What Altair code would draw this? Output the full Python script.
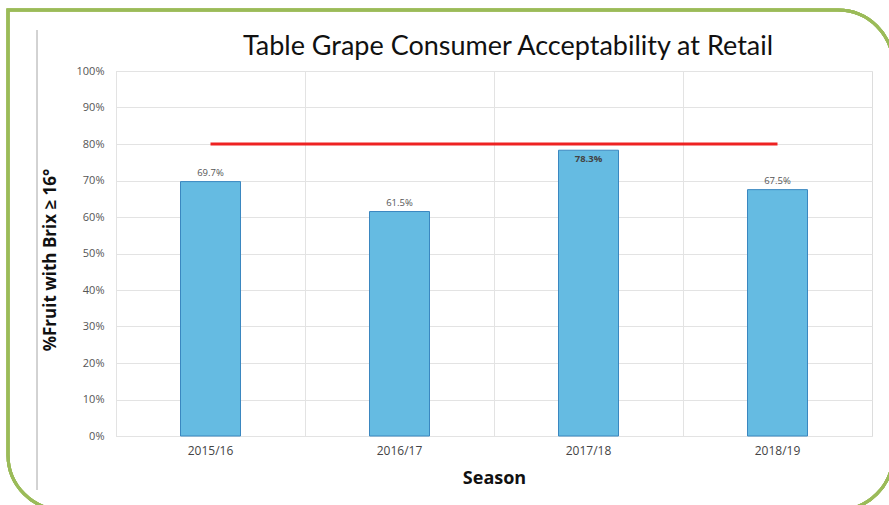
import altair as alt
import pandas as pd

seasons = ["2015/16", "2016/17", "2017/18", "2018/19"]
values = [0.697, 0.615, 0.783, 0.675]
labels = ["69.7%", "61.5%", "78.3%", "67.5%"]
target = 0.80
title_text = "Table Grape Consumer Acceptability at Retail"
y_ticks = [0.0, 0.1, 0.2, 0.3, 0.4, 0.5, 0.6, 0.7, 0.8, 0.9, 1.0]

df = pd.DataFrame({"season": seasons, "value": values, "label": labels})
tdf = pd.DataFrame({"start": [seasons[0]], "end": [seasons[-1]], "target": [target]})

W, H = 756, 365
L, T = 116, 71

xscale = alt.Scale(domain=seasons, paddingInner=0, paddingOuter=0)
yscale = alt.Scale(domain=[0, 1])

x_axis = alt.Axis(title="Season", labelAngle=0, ticks=False, domain=False,
                  bandPosition=0, grid=True, gridColor="#e3e3e3",
                  labelFont="Open Sans", labelFontSize=12, labelColor="#444444",
                  labelPadding=9,
                  titleFont="Open Sans", titleFontSize=18, titleFontWeight="bold",
                  titleColor="#111111", titlePadding=13)
y_axis = alt.Axis(title="%Fruit with Brix ≥ 16°", format=".0%",
                  values=y_ticks, labelOverlap=False,
                  ticks=False, domain=False, grid=True, gridColor="#e3e3e3",
                  labelFont="Open Sans", labelFontSize=11, labelColor="#555555",
                  labelPadding=12,
                  titleFont="Open Sans", titleFontSize=17, titleFontWeight="bold",
                  titleColor="#111111", titleX=50 - L, titleY=H / 2 + 6,
                  titleAngle=270, titleBaseline="middle", titleAlign="center")

x_enc = alt.X("season:N", scale=xscale, sort=seasons, axis=x_axis)
y_enc = alt.Y("value:Q", scale=yscale, axis=y_axis)

frame = alt.Chart(df).mark_rect(
    fill=None, stroke="#9bbb59", strokeWidth=3,
    cornerRadiusTopLeft=0, cornerRadiusTopRight=55,
    cornerRadiusBottomLeft=55, cornerRadiusBottomRight=55, clip=False
).encode(x=alt.value(8 - L), x2=alt.value(893 - L), y=alt.value(10 - T), y2=alt.value(510 - T))

sideline = alt.Chart(df).mark_rule(color="#d0d0d0", strokeWidth=1).encode(
    x=alt.value(37 - L), y=alt.value(30 - T), y2=alt.value(490 - T))

title = alt.Chart(pd.DataFrame({"t": [title_text]})).mark_text(
    font="Lato", fontSize=27, color="#111111", baseline="middle", align="center").encode(
    x=alt.value(508 - L), y=alt.value(47 - T), text="t:N")

bars = alt.Chart(df).mark_bar(size=60, color="#65bbe2", stroke="#3a87c0", strokeWidth=1).encode(
    x=x_enc, y=y_enc)

text_above = alt.Chart(df).transform_filter("datum.value < 0.75").mark_text(
    baseline="bottom", dy=-4, fontSize=9.5, font="Open Sans", color="#555555").encode(
    x=x_enc, y=y_enc, text="label:N")

text_inside = alt.Chart(df).transform_filter("datum.value >= 0.75").mark_text(
    baseline="top", dy=4, fontSize=9.5, font="Open Sans", fontWeight="bold", color="#444444").encode(
    x=x_enc, y=y_enc, text="label:N")

target_line = alt.Chart(tdf).mark_rule(color="#ee2222", strokeWidth=3).encode(
    x=alt.X("start:N", scale=xscale, sort=seasons, axis=x_axis),
    x2="end:N",
    y=alt.Y("target:Q", scale=yscale, axis=y_axis))

chart = alt.layer(frame, sideline, title, bars, target_line, text_above, text_inside).properties(
    width=W, height=H,
    autosize=alt.AutoSizeParams(type="none"),
    padding={"left": L, "top": T, "right": 889 - L - W, "bottom": 505 - T - H},
).configure_view(stroke="#e3e3e3", strokeWidth=1).configure(background="white")

chart.save("out.html", embed_options={"renderer": "svg", "actions": False})
